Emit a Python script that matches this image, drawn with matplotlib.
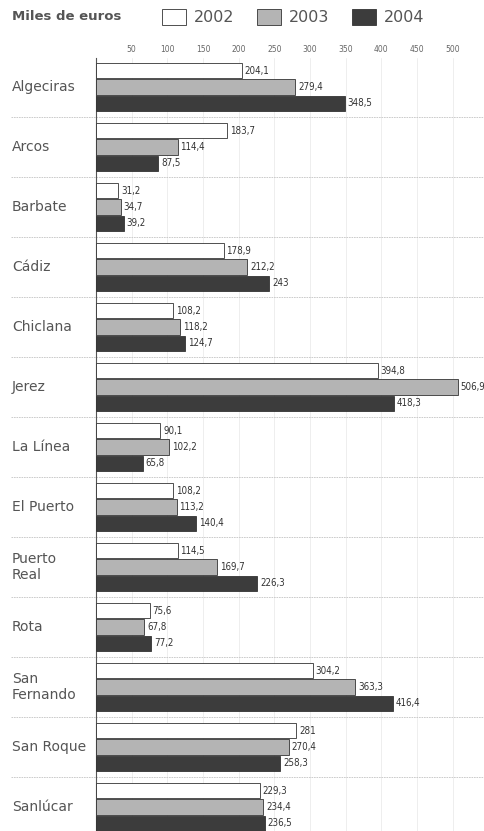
import numpy as np
import matplotlib
matplotlib.use('Agg')
import matplotlib.pyplot as plt

towns = ['Algeciras', 'Arcos', 'Barbate', 'Cádiz', 'Chiclana', 'Jerez', 'La Línea',
         'El Puerto', 'Puerto\nReal', 'Rota', 'San\nFernando', 'San Roque', 'Sanlúcar']
v2002 = [204.1, 183.7, 31.2, 178.9, 108.2, 394.8, 90.1, 108.2, 114.5, 75.6, 304.2, 281, 229.3]
v2003 = [279.4, 114.4, 34.7, 212.2, 118.2, 506.9, 102.2, 113.2, 169.7, 67.8, 363.3, 270.4, 234.4]
v2004 = [348.5, 87.5, 39.2, 243, 124.7, 418.3, 65.8, 140.4, 226.3, 77.2, 416.4, 258.3, 236.5]
years = ['2002', '2003', '2004']
ticks = [50, 100, 150, 200, 250, 300, 350, 400, 450, 500]

colors = ['#ffffff', '#b4b4b4', '#3c3c3c']
txt = '#555555'


def fmt(v):
    s = ('%.1f' % v).replace('.', ',')
    if s.endswith(',0'):
        s = s[:-2]
    return s


W, H = 484, 831
fig = plt.figure(figsize=(W / 100, H / 100), dpi=100)
top_px, bot_px = 58, 831
ax = fig.add_axes([96 / W, 0, 1 - 96 / W, (bot_px - top_px) / H])

y = np.arange(len(towns))
h = 0.27
bars = []
for k, vals in enumerate([v2002, v2003, v2004]):
    b = ax.barh(y + (k - 1) * h, vals, height=h - 0.015, color=colors[k],
                edgecolor='#333333', linewidth=0.6, label=years[k], zorder=3)
    ax.bar_label(b, labels=[fmt(v) for v in vals], padding=2, fontsize=7,
                 color='#333333', fontstretch='condensed')
    bars.append(b)

ax.set_xlim(0, 544)
ax.set_ylim((bot_px - 87) / 60, (top_px - 87) / 60)
ax.xaxis.tick_top()
ax.set_xticks(ticks)
ax.tick_params(axis='x', length=0, pad=3, labelsize=5.5, labelcolor='#666666')
ax.set_yticks([])
for s in ['top', 'right', 'bottom']:
    ax.spines[s].set_visible(False)
ax.spines['left'].set_color('#555555')
ax.spines['left'].set_linewidth(0.8)

for t in ticks:
    ax.axvline(t, color='#e8e8e8', lw=0.5, zorder=0)
for i in range(len(towns) - 1):
    ax.axhline(i + 0.5, xmin=-0.22, color='#c4c4c4', lw=0.6, ls=(0, (2, 1)),
               clip_on=False, zorder=1)

for i, name in enumerate(towns):
    fig.text(12 / W, 1 - (87 + 60 * i) / H, name, fontsize=10, color=txt,
             va='center', ha='left', linespacing=1.1)

fig.text(12 / W, 1 - 17 / H, 'Miles de euros', fontsize=9.5, color=txt,
         va='center', ha='left', fontweight='semibold')
fig.legend(handles=bars, labels=years, ncol=3, frameon=False, loc='center left',
           bbox_to_anchor=(148 / W, 1 - 17 / H), fontsize=11.5, handlelength=1.5,
           handleheight=1.2, columnspacing=1.4, handletextpad=0.5,
           labelcolor=txt)

fig.savefig('out.png', dpi=100)
